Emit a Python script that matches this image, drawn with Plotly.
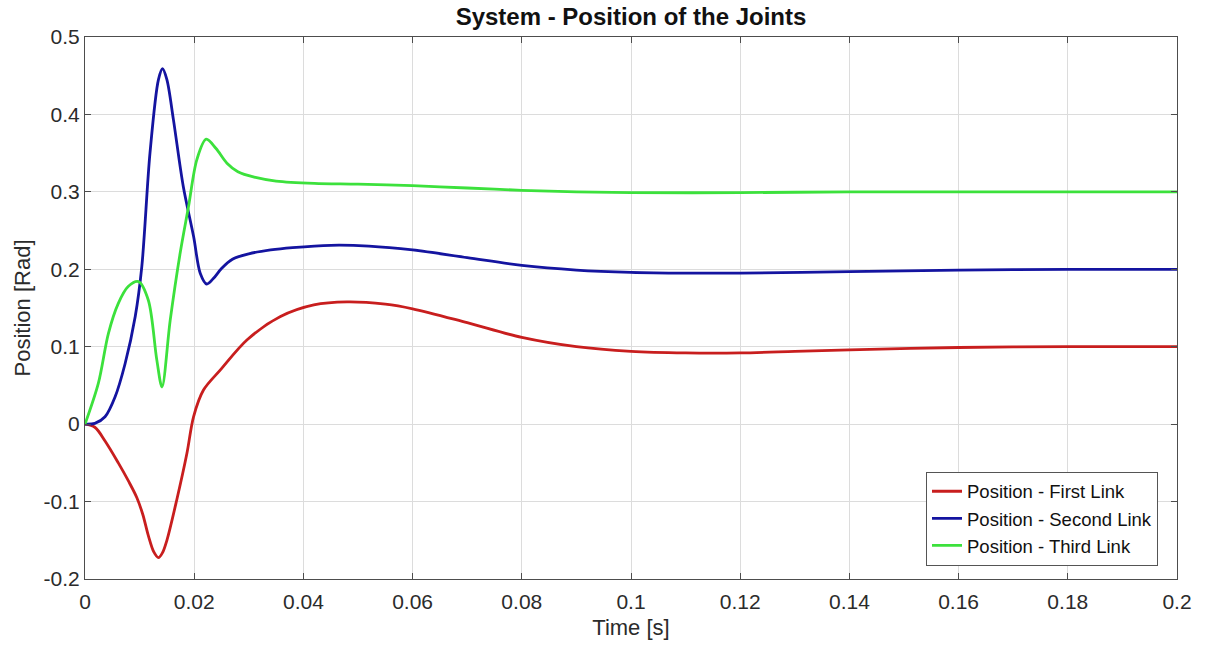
import plotly.graph_objects as go

# Joint position responses (time in seconds, position in radians)
t_first = [0, 0.0018, 0.0037, 0.0061, 0.0080, 0.0095, 0.0106, 0.0116, 0.0126, 0.01345,
           0.0142, 0.0150, 0.0168, 0.01866, 0.01988, 0.0217, 0.0248, 0.0297, 0.0358, 0.0419,
           0.048, 0.055, 0.06, 0.07, 0.08, 0.09, 0.1, 0.11, 0.12, 0.13, 0.14, 0.16, 0.18, 0.2]
pos_first = [0, -0.004, -0.022, -0.050, -0.074, -0.095, -0.117, -0.144, -0.165, -0.1725,
             -0.166, -0.150, -0.098, -0.038, 0.0095, 0.044, 0.070, 0.109, 0.139, 0.154,
             0.158, 0.155, 0.149, 0.131, 0.112, 0.100, 0.094, 0.092, 0.092, 0.094, 0.096, 0.099,
             0.100, 0.100]

t_second = [0, 0.0018, 0.00367, 0.0055, 0.00734, 0.0092, 0.0104, 0.0119, 0.01345, 0.0142,
            0.0150, 0.0162, 0.0180, 0.0199, 0.0211, 0.0223, 0.0235, 0.0250, 0.0270, 0.0300,
            0.0340, 0.038, 0.045, 0.052, 0.06, 0.07, 0.08, 0.09, 0.1, 0.11, 0.12, 0.14,
            0.16, 0.18, 0.2]
pos_second = [0, 0.001, 0.0095, 0.035, 0.078, 0.139, 0.203, 0.350, 0.445, 0.459,
              0.445, 0.393, 0.307, 0.242, 0.195, 0.181, 0.188, 0.201, 0.213, 0.220,
              0.225, 0.228, 0.231, 0.230, 0.225, 0.215, 0.205, 0.199, 0.196, 0.195, 0.195, 0.197,
              0.199, 0.200, 0.200]

t_third = [0, 0.00245, 0.00428, 0.0061, 0.00795, 0.0098, 0.0116, 0.01315, 0.0141, 0.0156,
           0.01743, 0.01896, 0.0205, 0.0222, 0.0240, 0.0260, 0.0280, 0.0310, 0.0350, 0.042,
           0.05, 0.06, 0.07, 0.08, 0.09, 0.1, 0.12, 0.14, 0.16, 0.2]
pos_third = [0, 0.053, 0.117, 0.156, 0.178, 0.184, 0.160, 0.083, 0.048, 0.134,
             0.221, 0.281, 0.342, 0.368, 0.356, 0.337, 0.326, 0.319, 0.314, 0.311,
             0.310, 0.308, 0.305, 0.302, 0.300, 0.299, 0.299, 0.300, 0.300, 0.300]

x_ticks = [0, 0.02, 0.04, 0.06, 0.08, 0.1, 0.12, 0.14, 0.16, 0.18, 0.2]
x_labels = ["0", "0.02", "0.04", "0.06", "0.08", "0.1", "0.12", "0.14", "0.16", "0.18", "0.2"]
y_ticks = [-0.2, -0.1, 0, 0.1, 0.2, 0.3, 0.4, 0.5]
y_labels = ["-0.2", "-0.1", "0", "0.1", "0.2", "0.3", "0.4", "0.5"]

series = [
    ("Position - First Link", t_first, pos_first, "#c81e1e"),
    ("Position - Second Link", t_second, pos_second, "#1414a0"),
    ("Position - Third Link", t_third, pos_third, "#3ce13c"),
]

font_family = "Liberation Sans, Arial, sans-serif"

fig = go.Figure()
for name, t, y, color in series:
    fig.add_trace(go.Scatter(
        x=t, y=y, name=name, mode="lines",
        line=dict(color=color, width=2.8, shape="spline", smoothing=0.9),
    ))

axis_common = dict(
    showgrid=True, gridcolor="#dcdcdc", gridwidth=1,
    showline=True, linecolor="#4d4d4d", linewidth=1, mirror="ticks",
    ticks="inside", ticklen=6, tickcolor="#4d4d4d",
    zeroline=False,
    tickfont=dict(family=font_family, size=21, color="#2b2b2b"),
)

fig.update_layout(
    width=1206, height=647,
    margin=dict(l=85, r=29, t=37, b=68),
    paper_bgcolor="white", plot_bgcolor="white",
    title=dict(text="<b>System - Position of the Joints</b>", x=0.5, xanchor="center",
               xref="paper", y=0.974, yanchor="middle",
               font=dict(family=font_family, size=24, color="#111111")),
    xaxis=dict(range=[0, 0.2], tickvals=x_ticks, ticktext=x_labels, ticklabelstandoff=4,
               title=dict(text="Time [s]", standoff=7,
                          font=dict(family=font_family, size=22, color="#2b2b2b")),
               **axis_common),
    yaxis=dict(range=[-0.2, 0.5], tickvals=y_ticks, ticktext=y_labels,
               title=dict(text="Position [Rad]", standoff=6,
                          font=dict(family=font_family, size=22, color="#2b2b2b")),
               **axis_common),
    legend=dict(x=0.9826, xanchor="right", y=0.0245, yanchor="bottom",
                bgcolor="white", bordercolor="#555555", borderwidth=1,
                font=dict(family=font_family, size=18.5, color="#111111"),
                itemwidth=30, tracegroupgap=0),
    showlegend=True,
)

fig.write_html("out.html")
